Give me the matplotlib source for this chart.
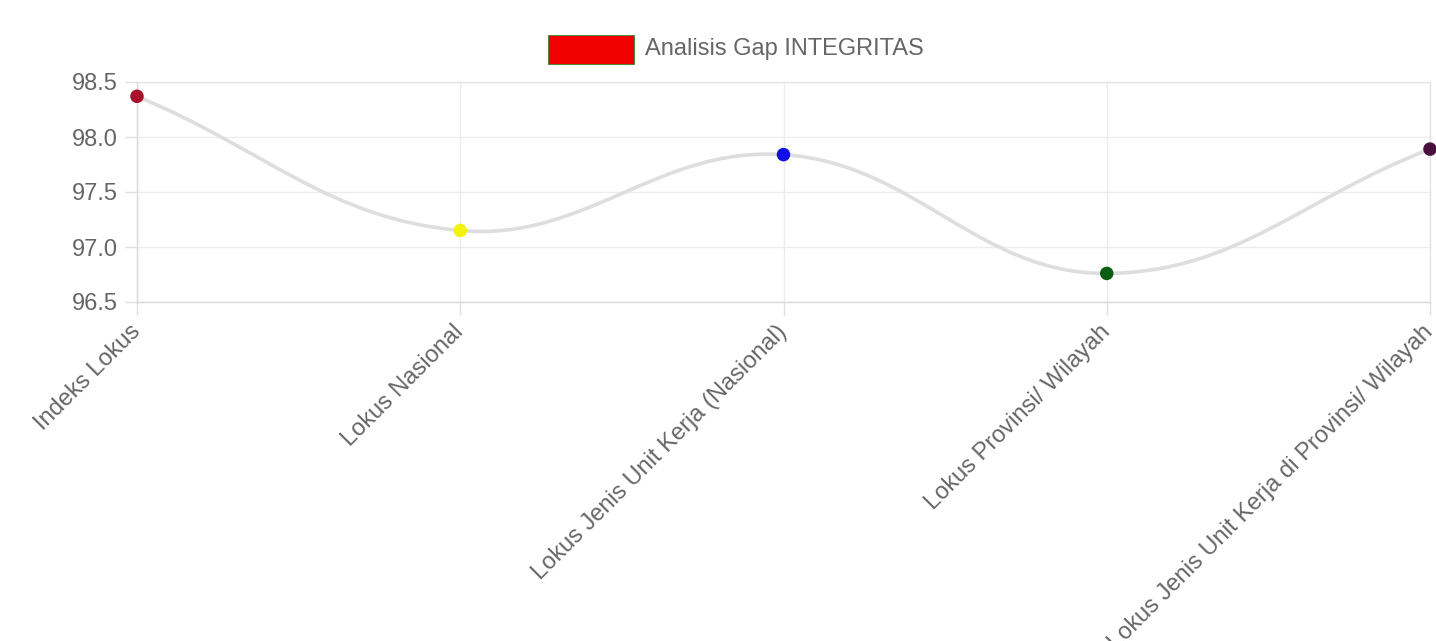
import numpy as np
import matplotlib
matplotlib.use("Agg")
import matplotlib.pyplot as plt
from matplotlib.path import Path
from matplotlib.patches import PathPatch, Rectangle

# datos
categorias = ["Indeks Lokus", "Lokus Nasional", "Lokus Jenis Unit Kerja (Nasional)",
              "Lokus Provinsi/ Wilayah", "Lokus Jenis Unit Kerja di Provinsi/ Wilayah"]
valores = [98.37, 97.15, 97.84, 96.76, 97.89]
colores_puntos = ["#a8102a", "#f2f20a", "#1010e0", "#0a5e14", "#4a1040"]
etiqueta_serie = "Analisis Gap INTEGRITAS"
y_ticks = [96.5, 97.0, 97.5, 98.0, 98.5]

W, H = 1436, 641
plt.rcParams['font.family'] = ['Liberation Sans', 'DejaVu Sans']
fig = plt.figure(figsize=(W / 100, H / 100), dpi=100)
fig.patch.set_facecolor('white')
x0, x1, y0, y1 = 137, 1430, 82, 302
ax = fig.add_axes([x0 / W, 1 - y1 / H, (x1 - x0) / W, (y1 - y0) / H])

x = np.arange(len(valores), dtype=float)
ax.set_xlim(0, len(valores) - 1)
ax.set_ylim(96.5, 98.5)

# curva tipo chart.js (tension 0.4), calculada en pixeles
sx = (x1 - x0) / (len(valores) - 1)
sy = (y1 - y0) / 2.0
px = x * sx
py = np.array(valores) * sy
t = 0.4
cprev, cnext = [], []
n = len(px)
for i in range(n):
    a = max(i - 1, 0); c = min(i + 1, n - 1)
    d01 = np.hypot(px[i] - px[a], py[i] - py[a])
    d12 = np.hypot(px[c] - px[i], py[c] - py[i])
    s01 = d01 / (d01 + d12) if d01 + d12 else 0
    s12 = d12 / (d01 + d12) if d01 + d12 else 0
    fa, fb = t * s01, t * s12
    cprev.append((px[i] - fa * (px[c] - px[a]), py[i] - fa * (py[c] - py[a])))
    cnext.append((px[i] + fb * (px[c] - px[a]), py[i] + fb * (py[c] - py[a])))
verts = [(px[0], py[0])]
codes = [Path.MOVETO]
for i in range(n - 1):
    verts += [cnext[i], cprev[i + 1], (px[i + 1], py[i + 1])]
    codes += [Path.CURVE4] * 3
verts = [(vx / sx, vy / sy) for vx, vy in verts]
ax.add_patch(PathPatch(Path(verts, codes), facecolor='none', edgecolor='#dedede', lw=2.6, zorder=2))

ax.scatter(x, valores, s=95, c=colores_puntos, zorder=3, clip_on=False, linewidths=0)

# ejes y rejilla
ax.set_yticks(y_ticks)
ax.set_yticklabels([f"{v:.1f}" for v in y_ticks])
ax.set_xticks(x)
ax.set_xticklabels(categorias, rotation=45, ha='right', va='center', rotation_mode='anchor')
ax.grid(True, color='#ececec', lw=1.0, zorder=0)
for s in ax.spines.values():
    s.set_color('#e4e4e4'); s.set_linewidth(1.0)
ax.spines['left'].set_color('#d8d8d8')
ax.spines['bottom'].set_color('#d8d8d8')
ax.tick_params(axis='both', colors='#e0e0e0', labelcolor='#666666', labelsize=17, length=9, width=1)
ax.tick_params(axis='y', pad=5)
ax.tick_params(axis='x', pad=10)

# leyenda
fig.patches.append(Rectangle((548 / W, 1 - 64 / H), 86 / W, 29 / H, transform=fig.transFigure,
                             facecolor='#f00000', edgecolor='#2a8a2a', lw=0.6))
fig.text(645 / W, 1 - 49 / H, etiqueta_serie, fontsize=17, color='#666666', va='center', ha='left')

fig.savefig('out.png', dpi=100, facecolor='white')
